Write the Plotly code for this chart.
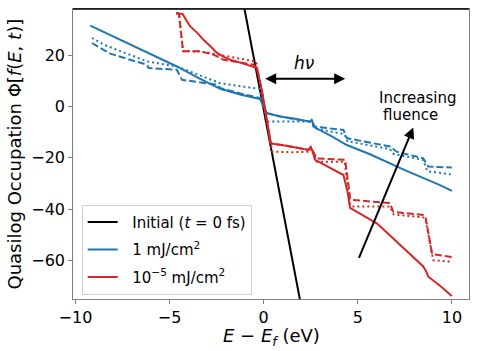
import plotly.graph_objects as go

# ---------------- data ----------------
E_init = [-1.1, 2.0]
P_init = [41.1, -78.0]

# 1 mJ/cm^2 (blue)
E_b_solid = [-9.21, -7.0, -4.61, -3.5, -2.31, -1.2, -0.19, 0.17, 0.88, 1.8, 2.47, 2.55, 2.73,
             3.6, 4.42, 5.65, 7.5, 9.37, 10.0]
P_b_solid = [31.5, 23.9, 15.6, 11.3, 6.9, 4.6, 2.9, -2.6, -3.9, -5.0, -5.9, -5.3, -8.2,
             -11.5, -15.0, -18.6, -24.8, -30.6, -32.9]

E_b_dash = [-9.12, -8.15, -7.09, -6.2, -6.11, -4.61, -4.34, -3.3, -2.48, -2.31, -1.2, -0.19,
            0.17, 0.9, 1.94, 2.47, 2.55, 2.64, 4.24, 4.42, 6.71, 7.07, 8.48, 8.75, 10.0]
P_b_dash = [24.75, 20.6, 18.2, 16.3, 15.0, 14.3, 10.4, 9.5, 8.5, 7.2, 5.0, 3.3,
            -2.6, -3.9, -5.2, -5.9, -5.3, -7.8, -9.1, -12.3, -15.6, -17.6, -20.2, -23.4, -23.8]

E_b_dot = [-9.12, -8.5, -6.2, -4.61, -2.31, -0.19, 0.2, 1.2, 2.47, 2.55, 2.75, 4.3, 4.45,
           6.71, 6.9, 8.48, 8.7, 10.0]
P_b_dot = [26.7, 24.1, 17.6, 15.6, 9.1, 6.8, -5.8, -5.9, -5.8, -5.2, -8.6, -10.8, -13.5,
           -16.6, -18.5, -20.8, -25.2, -26.5]

# 1e-5 mJ/cm^2 (red)
E_r_solid = [-4.64, -4.3, -4.1, -3.9, -3.5, -3.2, -2.8, -2.48, -2.1, -1.78, -1.2, -0.72, -0.36,
             -0.1, 0.1, 0.38, 1.2, 2.0, 2.38, 2.5, 2.6, 2.73, 3.5, 4.24, 4.45, 4.59, 5.3, 6.01,
             6.5, 7.07, 7.8, 8.48, 8.65, 8.75, 9.4, 10.0]
P_r_solid = [36.3, 36.0, 33.5, 31.2, 28.5, 26.0, 23.3, 20.9, 19.3, 18.2, 17.0, 16.0, 15.0,
             6.5, -2.0, -14.4, -15.3, -16.3, -16.9, -15.8, -17.5, -20.8, -23.8, -26.7, -33.0,
             -39.5, -42.5, -45.5, -48.8, -52.7, -57.5, -62.3, -64.5, -66.3, -70.0, -73.8]

E_r_dash = [-4.64, -4.5, -4.28, -3.36, -2.66, -2.13, -0.54, -0.36, -0.1, 0.1, 0.38, 1.2, 2.0,
            2.38, 2.5, 2.82, 4.33, 4.6, 4.7, 6.71, 6.89, 8.48, 8.6, 8.95, 10.0]
P_r_dash = [36.3, 36.2, 21.5, 21.5, 20.2, 18.2, 16.3, 15.0, 6.5, -2.0, -14.4, -15.3, -16.3,
            -16.9, -15.8, -20.2, -20.8, -36.0, -36.4, -37.6, -41.0, -42.3, -43.0, -57.5, -58.6]

E_r_dot = [-4.64, -4.5, -4.28, -3.4, -2.84, -1.5, -0.4, 0.45, 1.5, 2.47, 2.55, 2.82, 4.3,
           4.6, 4.77, 6.71, 6.9, 8.48, 8.6, 9.01, 10.0]
P_r_dot = [36.3, 36.2, 21.6, 21.4, 20.8, 19.0, 17.5, -17.6, -17.8, -17.6, -16.5, -21.5, -21.5,
           -38.5, -39.0, -39.0, -42.0, -43.2, -44.0, -59.9, -60.5]

X_TICKS = [-10, -5, 0, 5, 10]
Y_TICKS = [-60, -40, -20, 0, 20]

BLUE = "#1f77b4"
RED = "#d62728"
FONT = "DejaVu Sans"
NB = "\u00a0\u00a0"

fig = go.Figure()

def add(x, y, color, dash, name=None, legend=False, group=None):
    fig.add_trace(go.Scatter(
        x=x, y=y, mode="lines", name=name, showlegend=legend,
        legendgroup=group,
        line=dict(color=color, width=2, dash=dash),
        hoverinfo="skip"))

add(E_init, P_init, "black", "solid", NB + "Initial (<i>t</i> = 0 fs)", True, "g1")
add(E_b_solid, P_b_solid, BLUE, "solid", NB + "1 mJ/cm<sup>2</sup>", True, "g2")
add(E_b_dash, P_b_dash, BLUE, "7px,3px", group="g2")
add(E_b_dot, P_b_dot, BLUE, "2px,3px", group="g2")
add(E_r_solid, P_r_solid, RED, "solid", NB + "10<sup>\u22125</sup> mJ/cm<sup>2</sup>", True, "g3")
add(E_r_dash, P_r_dash, RED, "7px,3px", group="g3")
add(E_r_dot, P_r_dot, RED, "2px,3px", group="g3")

axis_common = dict(
    showgrid=False, zeroline=False, showline=True, mirror=True, automargin=False,
    linecolor="#7f7f7f", linewidth=1.3,
    ticks="outside", ticklen=3.5, tickcolor="#7f7f7f", tickwidth=1.2,
    tickfont=dict(family=FONT, size=16, color="black"),
)

fig.update_xaxes(
    range=[-10.13, 10.91], tickvals=X_TICKS,
    ticktext=[("\u2212" + str(-v)) if v < 0 else str(v) for v in X_TICKS],
    **axis_common)
fig.update_yaxes(
    range=[-75.0, 38.0], tickvals=Y_TICKS,
    ticktext=[("\u2212" + str(-v)) if v < 0 else str(v) for v in Y_TICKS],
    **axis_common)

# axis titles
fig.add_annotation(x=0.5, y=0, xref="paper", yref="paper", yshift=-37.5,
                   text="<i>E</i> \u2212 <i>E<sub>f</sub></i> (eV)", showarrow=False,
                   xanchor="center", yanchor="middle",
                   font=dict(family=FONT, size=18, color="black"))
fig.add_annotation(x=0, y=0.5, xref="paper", yref="paper", xshift=-59.5,
                   text="Quasilog Occupation \u03a6[<i>f</i>(<i>E</i>, <i>t</i>)]",
                   showarrow=False, textangle=-90, xanchor="center", yanchor="middle",
                   font=dict(family=FONT, size=18, color="black"))

# top spine drawn black
fig.add_shape(type="line", xref="x domain", yref="y domain", x0=0, x1=1, y0=1, y1=1,
              line=dict(color="black", width=1.3))

# h-nu double arrow
fig.add_annotation(x=4.33, y=10.8, ax=0.0, ay=10.8, xref="x", yref="y", axref="x", ayref="y",
                   text="", showarrow=True, arrowside="end+start", arrowhead=2,
                   arrowsize=1.1, arrowwidth=2, arrowcolor="black",
                   standoff=0, startstandoff=0)
fig.add_annotation(x=2.15, y=16.9, xref="x", yref="y", text="<i>h\u03bd</i>",
                   showarrow=False, font=dict(family=FONT, size=17, color="black"))

# increasing fluence arrow
fig.add_annotation(x=7.95, y=-8.2, ax=5.03, ay=-59.6, xref="x", yref="y", axref="x", ayref="y",
                   text="", showarrow=True, arrowhead=2, arrowsize=1.1, arrowwidth=2,
                   arrowcolor="black", standoff=0)
fig.add_annotation(x=6.01, y=3.3, xref="x", yref="y", text="Increasing", xanchor="left",
                   showarrow=False, font=dict(family=FONT, size=15, color="black"))
fig.add_annotation(x=6.24, y=-3.2, xref="x", yref="y", text="fluence", xanchor="left",
                   showarrow=False, font=dict(family=FONT, size=15, color="black"))

fig.update_layout(
    width=479, height=351,
    margin=dict(l=73, r=10, t=9, b=52, autoexpand=False),
    paper_bgcolor="white", plot_bgcolor="white",
    font=dict(family=FONT, color="black"),
    hovermode=False,
    legend=dict(x=0.022, y=0.015, xanchor="left", yanchor="bottom",
                bgcolor="rgba(255,255,255,0.85)", bordercolor="#d0d0d0", borderwidth=1,
                font=dict(family=FONT, size=15, color="black"),
                itemwidth=30, tracegroupgap=5),
)

# remove the browser's default body margin so the figure fills the window exactly
fig.write_html("out.html", config={"displayModeBar": False, "staticPlot": True},
               post_script="document.body.style.margin='0';document.body.style.overflow='hidden';")
